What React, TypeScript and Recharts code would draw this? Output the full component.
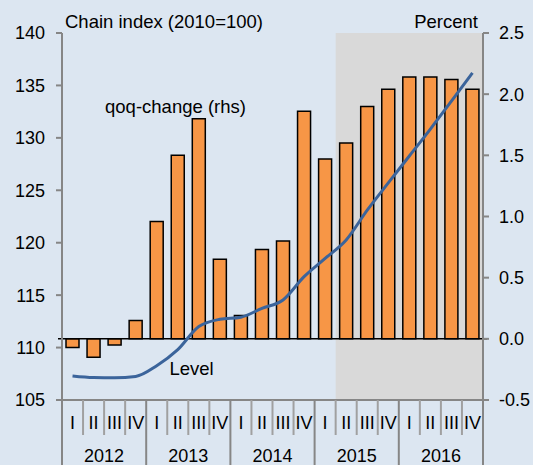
import React from 'react';
import {
  ComposedChart,
  Bar,
  Line,
  XAxis,
  YAxis,
  ReferenceArea,
  ReferenceLine,
} from 'recharts';

const years = ['2012', '2013', '2014', '2015', '2016'];
const quarterNames = ['I', 'II', 'III', 'IV'];
const qoqChange = [
  -0.07, -0.15, -0.05, 0.15,
  0.96, 1.5, 1.8, 0.65,
  0.19, 0.73, 0.8, 1.86,
  1.47, 1.6, 1.9, 2.04,
  2.14, 2.14, 2.12, 2.04,
];
const levelIndex = [
  107.3, 107.15, 107.13, 107.25,
  108.27, 109.8, 112.0, 112.7,
  112.9, 113.74, 114.54, 116.76,
  118.5, 120.26, 123.1, 125.7,
  128.27, 130.84, 133.5, 136.2,
];
const leftTicks = [105, 110, 115, 120, 125, 130, 135, 140];
const rightTicks = [-0.5, 0, 0.5, 1.0, 1.5, 2.0, 2.5];

const data = years.flatMap((y, yi) =>
  quarterNames.map((q, qi) => ({
    cat: `${y} ${q}`,
    year: y,
    q,
    qoq: qoqChange[yi * 4 + qi],
    level: levelIndex[yi * 4 + qi],
  }))
);

const W = 533;
const H = 465;
const LEFT_W = 62;
const RIGHT_W = 50;
const TOP = 33;
const X_H = 65;
const PLOT_W = W - LEFT_W - RIGHT_W;
const BW = PLOT_W / data.length;
const FONT = '"Liberation Sans", Arial, sans-serif';
const SEP = '#a0a0a0';
const AXIS = '#868686';

const QuarterTick = (props: any) => {
  const { x, y, payload, index } = props;
  const d = data[index] || data.find((e) => e.cat === payload.value);
  if (!d) return null;
  const isFirstQ = d.q === 'I';
  const isLast = index === data.length - 1;
  return (
    <g>
      <line
        x1={x - BW / 2}
        x2={x - BW / 2}
        y1={y}
        y2={isFirstQ ? y + X_H : y + 35}
        stroke={isFirstQ ? AXIS : SEP}
        strokeWidth={2}
      />
      {isLast && (
        <line x1={x + BW / 2} x2={x + BW / 2} y1={y} y2={y + X_H} stroke={AXIS} strokeWidth={2} />
      )}
      <text x={x} y={y + 29} textAnchor="middle" fontSize={18} fontFamily={FONT} fill="#000">
        {d.q}
      </text>
      {d.q === 'II' && (
        <text x={x + BW / 2} y={y + 62} textAnchor="middle" fontSize={18} fontFamily={FONT} fill="#000">
          {d.year}
        </text>
      )}
    </g>
  );
};

const ZeroLine = (props: any) => {
  const { x1, x2, y1, y2 } = props;
  const inset = 4;
  return <line x1={x1 + inset} x2={x2 - inset} y1={y1} y2={y2} stroke="#000" strokeWidth={1.5} />;
};

export default function App() {
  return (
    <div
      style={{
        position: 'absolute',
        left: 0,
        top: 0,
        width: W,
        height: H,
        background: '#dce6f1',
        overflow: 'hidden',
        fontFamily: FONT,
      }}
    >
      <ComposedChart
        width={W}
        height={H}
        data={data}
        margin={{ top: TOP, right: 0, left: 0, bottom: 0 }}
        barSize={13}
      >
        <ReferenceArea
          x1="2015 II"
          x2="2016 IV"
          yAxisId="left"
          fill="#d9d9d9"
          fillOpacity={1}
          stroke="none"
        />
        <XAxis
          dataKey="cat"
          interval={0}
          height={X_H}
          tickLine={false}
          tickSize={0}
          tickMargin={0}
          axisLine={{ stroke: AXIS, strokeWidth: 2 }}
          tick={<QuarterTick />}
        />
        <YAxis
          yAxisId="left"
          orientation="left"
          width={LEFT_W}
          domain={[105, 140]}
          ticks={leftTicks}
          interval={0}
          tickSize={6}
          tickMargin={11}
          axisLine={{ stroke: AXIS, strokeWidth: 2 }}
          tickLine={{ stroke: AXIS, strokeWidth: 2 }}
          tick={{ fontSize: 18, fill: '#000', fontFamily: FONT }}
        />
        <YAxis
          yAxisId="right"
          orientation="right"
          width={RIGHT_W}
          domain={[-0.5, 2.5]}
          ticks={rightTicks}
          interval={0}
          tickSize={6}
          tickMargin={10}
          tickFormatter={(v: number) => v.toFixed(1)}
          axisLine={{ stroke: AXIS, strokeWidth: 2 }}
          tickLine={{ stroke: AXIS, strokeWidth: 2 }}
          tick={{ fontSize: 18, fill: '#000', fontFamily: FONT, textAnchor: 'start' }}
        />
        <Bar
          yAxisId="right"
          dataKey="qoq"
          fill="#f79646"
          stroke="#000"
          strokeWidth={1.5}
          isAnimationActive={false}
        />
        <ReferenceLine yAxisId="right" y={0} shape={<ZeroLine />} />
        <Line
          yAxisId="left"
          dataKey="level"
          type="monotone"
          stroke="#3b649b"
          strokeWidth={3}
          dot={false}
          isAnimationActive={false}
        />
      </ComposedChart>
      <svg
        width={W}
        height={H}
        style={{ position: 'absolute', left: 0, top: 0, pointerEvents: 'none' }}
      >
        <text x={65} y={28} fontSize={18.5} fontFamily={FONT} fill="#000">
          Chain index (2010=100)
        </text>
        <text x={478} y={28} fontSize={18.5} fontFamily={FONT} fill="#000" textAnchor="end">
          Percent
        </text>
        <text x={175.5} y={113} fontSize={18.5} fontFamily={FONT} fill="#000" textAnchor="middle">
          qoq-change (rhs)
        </text>
        <text x={191.5} y={375} fontSize={18.5} fontFamily={FONT} fill="#000" textAnchor="middle">
          Level
        </text>
      </svg>
    </div>
  );
}
